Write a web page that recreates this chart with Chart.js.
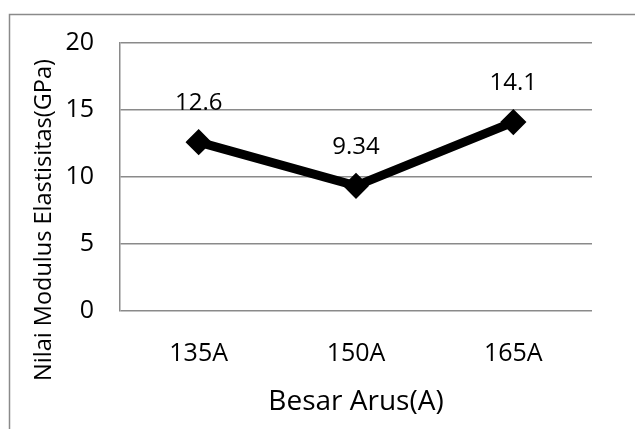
<!DOCTYPE html>
<html>
<head>
<meta charset="utf-8">
<script src="https://cdn.jsdelivr.net/npm/chart.js@4/dist/chart.umd.min.js"></script>
<style>
  body { margin: 0; background: #fff; overflow: hidden; }
  #wrap { position: relative; width: 635px; height: 429px; }
</style>
</head>
<body>
<div id="wrap"><canvas id="modulusChart"></canvas></div>
<script>
// data
var categories = ["135A", "150A", "165A"];
var modulusValues = [12.6, 9.34, 14.1];
var valueLabels = ["12.6", "9.34", "14.1"];
var yMin = 0;
var yMax = 20;
var yStep = 5;
var yTitle = "Nilai Modulus Elastisitas(GPa)";
var xTitle = "Besar Arus(A)";

var FONT = "'Open Sans', 'DejaVu Sans', sans-serif";
var GRID = "#8a8a8a";

// outer frame (top and left edges only, like the cropped original)
// and the y title, which sits centred on the whole plot, not only the axis
const framePlugin = {
  id: "frame",
  beforeDraw(chart) {
    const ctx = chart.ctx;
    ctx.save();
    ctx.strokeStyle = GRID;
    ctx.lineWidth = 1.5;
    ctx.beginPath();
    ctx.moveTo(9.5, chart.height);
    ctx.lineTo(9.5, 14.5);
    ctx.lineTo(chart.width, 14.5);
    ctx.stroke();

    ctx.translate(44, 220);
    ctx.rotate(-Math.PI / 2);
    ctx.font = "23.5px " + FONT;
    ctx.fillStyle = "#000";
    ctx.textAlign = "center";
    ctx.textBaseline = "middle";
    ctx.fillText(yTitle, 0, 0);
    ctx.restore();
  },
};

// value labels above each point
const valueLabelPlugin = {
  id: "valueLabels",
  afterDatasetsDraw(chart) {
    const ctx = chart.ctx;
    const meta = chart.getDatasetMeta(0);
    ctx.save();
    ctx.font = "24px " + FONT;
    ctx.fillStyle = "#000";
    ctx.textAlign = "center";
    ctx.textBaseline = "middle";
    meta.data.forEach((pt, i) => {
      ctx.fillText(valueLabels[i], pt.x, pt.y - 39);
    });
    ctx.restore();
  },
};

const data_Modulus = {
  labels: categories,
  datasets: [
    {
      label: "Nilai Modulus Elastisitas",
      data: modulusValues,
      borderColor: "#000",
      backgroundColor: "#000",
      borderWidth: 9,
      tension: 0,
      pointStyle: "rectRot",
      pointRadius: 11,
      pointBorderWidth: 3,
      pointBackgroundColor: "#000",
      pointBorderColor: "#000",
    },
  ],
};

const config_Modulus = {
  type: "line",
  data: data_Modulus,
  plugins: [framePlugin, valueLabelPlugin],
  options: {
    responsive: true,
    maintainAspectRatio: false,
    animation: false,
    layout: {
      padding: { left: 0, top: 43, right: 43, bottom: 0 },
    },
    plugins: {
      legend: { display: false },
      tooltip: { enabled: false },
    },
    scales: {
      x: {
        offset: true,
        grid: { display: false, drawTicks: false, offset: true },
        border: { display: false },
        ticks: {
          color: "#000",
          padding: 28,
          font: { family: FONT, size: 25 },
        },
        title: {
          display: true,
          text: xTitle,
          color: "#000",
          font: { family: FONT, size: 28 },
          padding: { top: 8, bottom: 10 },
        },
        afterFit(scale) {
          scale.height = 118;
        },
      },
      y: {
        min: yMin,
        max: yMax,
        ticks: {
          stepSize: yStep,
          color: "#000",
          padding: 26,
          font: { family: FONT, size: 25 },
        },
        grid: { color: GRID, lineWidth: 1.5, drawTicks: false },
        border: { display: true, color: GRID, width: 1.5 },
        title: { display: false },
        afterFit(scale) {
          scale.width = 120;
        },
      },
    },
  },
};

const ModulusChart = new Chart(document.getElementById("modulusChart"), config_Modulus);
</script>
</body>
</html>
